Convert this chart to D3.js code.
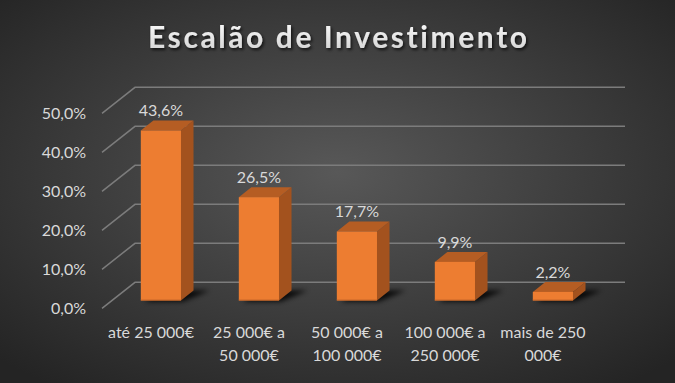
<!DOCTYPE html>
<html><head><meta charset="utf-8">
<script src="https://cdn.jsdelivr.net/npm/d3@7"></script>
<style>html,body{margin:0;padding:0;background:#2a2a2a;}svg{display:block;}text{font-variant-ligatures:none;font-feature-settings:"liga" 0;}</style>
</head><body>
<script>
const title = "Escalão de Investimento";
const categories = ["até 25 000€", "25 000€ a 50 000€", "50 000€ a 100 000€", "100 000€ a 250 000€", "mais de 250 000€"];
const categoryLines = [["até 25 000€"], ["25 000€ a", "50 000€"], ["50 000€ a", "100 000€"], ["100 000€ a", "250 000€"], ["mais de 250", "000€"]];
const values = [43.6, 26.5, 17.7, 9.9, 2.2];
const valueLabels = ["43,6%", "26,5%", "17,7%", "9,9%", "2,2%"];
const yTicks = [0, 10, 20, 30, 40, 50];
const yTickLabels = ["0,0%", "10,0%", "20,0%", "30,0%", "40,0%", "50,0%"];

const W = 675, H = 383;
const DX = 33, DY = -26;      // full depth vector
const D0 = 0.3, D1 = 0.68;    // bar depth span

const svg = d3.select("body").append("svg").attr("width", W).attr("height", H);
const defs = svg.append("defs");
const rg = defs.append("radialGradient").attr("id", "bg").attr("cx", "50%").attr("cy", "45%").attr("r", "70%");
rg.append("stop").attr("offset", "0%").attr("stop-color", "#585858");
rg.append("stop").attr("offset", "100%").attr("stop-color", "#242424");
const sh = defs.append("filter").attr("id", "tsh").attr("x", "-10%").attr("y", "-30%").attr("width", "120%").attr("height", "160%");
sh.append("feDropShadow").attr("dx", 1.5).attr("dy", 2).attr("stdDeviation", 1.5).attr("flood-color", "#000").attr("flood-opacity", 0.7);
const blur = defs.append("filter").attr("id", "blur").attr("x", "-50%").attr("y", "-50%").attr("width", "200%").attr("height", "200%");
blur.append("feGaussianBlur").attr("stdDeviation", 2.5);
const tg = defs.append("linearGradient").attr("id", "tg").attr("x1", 0).attr("y1", 0).attr("x2", 0).attr("y2", 1);
tg.append("stop").attr("offset", "0%").attr("stop-color", "#ffffff");
tg.append("stop").attr("offset", "100%").attr("stop-color", "#d0d0d0");

svg.append("rect").attr("width", W).attr("height", H).attr("fill", "url(#bg)");

// scales (front plane)
const y = d3.scaleLinear().domain([0, 50]).range([308.3, 113.3]);
const x = d3.scaleBand().domain(categories).range([102, 592]).paddingInner(0).paddingOuter(0);

// gridlines: diagonal on left side wall + back wall line
const grid = svg.append("g").attr("stroke", "#7c7c7c").attr("stroke-width", 1.5).attr("fill", "none");
yTicks.forEach(t => {
  const x0 = x.range()[0], x1 = x.range()[1];
  grid.append("path").attr("d", `M${x0},${y(t)} L${x0 + DX},${y(t) + DY} L${x1 + DX},${y(t) + DY}`);
});

// y axis labels
svg.append("g").selectAll("text").data(yTicks).join("text")
  .attr("x", 86).attr("y", d => y(d) + 5.8)
  .attr("text-anchor", "end").attr("fill", "#d9d9d9")
  .style("font-family", "Lato").style("font-size", "16px")
  .text((d, i) => yTickLabels[i]);

// bars
const bw = x.bandwidth() * 0.41;
const bars = svg.append("g");
values.forEach((v, i) => {
  const cat = categories[i];
  const fx0 = x(cat) + (x.bandwidth() - bw) / 2 + D0 * DX;
  const fx1 = fx0 + bw;
  const yb = y(0) + D0 * DY;
  const yt = y(v) + D0 * DY;
  const ddx = (D1 - D0) * DX, ddy = (D1 - D0) * DY;
  // shadow
  bars.append("path")
    .attr("d", `M${fx0 + 4},${yb + 1} L${fx1 + 2},${yb + 1} L${fx1 + ddx + 16},${yb + ddy} L${fx0 + ddx + 6},${yb + ddy} Z`)
    .attr("fill", "#000").attr("opacity", 0.85).attr("filter", "url(#blur)");
  // side
  bars.append("path")
    .attr("d", `M${fx1},${yt} L${fx1 + ddx},${yt + ddy} L${fx1 + ddx},${yb + ddy} L${fx1},${yb} Z`)
    .attr("fill", "#A3521E");
  // top
  bars.append("path")
    .attr("d", `M${fx0},${yt} L${fx0 + ddx},${yt + ddy} L${fx1 + ddx},${yt + ddy} L${fx1},${yt} Z`)
    .attr("fill", "#B55D23");
  // front
  bars.append("rect").attr("x", fx0).attr("y", yt).attr("width", bw).attr("height", yb - yt)
    .attr("fill", "#ED7D31");
  bars.append("line").attr("x1", fx0).attr("x2", fx1).attr("y1", yb - 0.5).attr("y2", yb - 0.5)
    .attr("stroke", "#C8682A").attr("stroke-width", 1);
  // value label
  svg.append("text").attr("x", (fx0 + fx1) / 2).attr("y", yt - 14)
    .attr("text-anchor", "middle").attr("fill", "#d9d9d9")
    .style("font-family", "Lato").style("font-size", "16px")
    .text(valueLabels[i]);
});

// x axis labels
categories.forEach((c, i) => {
  const t = svg.append("text").attr("text-anchor", "middle").attr("fill", "#d9d9d9")
    .style("font-family", "Lato").style("font-size", "16px");
  categoryLines[i].forEach((ln, j) => {
    t.append("tspan").attr("x", x(c) + x.bandwidth() / 2).attr("y", 337.5 + j * 23.5).text(ln);
  });
});

// title
svg.append("text").attr("x", 337.5).attr("y", 48.3).attr("text-anchor", "middle")
  .attr("fill", "url(#tg)").attr("filter", "url(#tsh)")
  .style("font-family", "Lato").style("font-weight", "bold").style("font-size", "30px")
  .attr("textLength", 379).attr("lengthAdjust", "spacing")
  .text(title);
</script>
</body></html>
